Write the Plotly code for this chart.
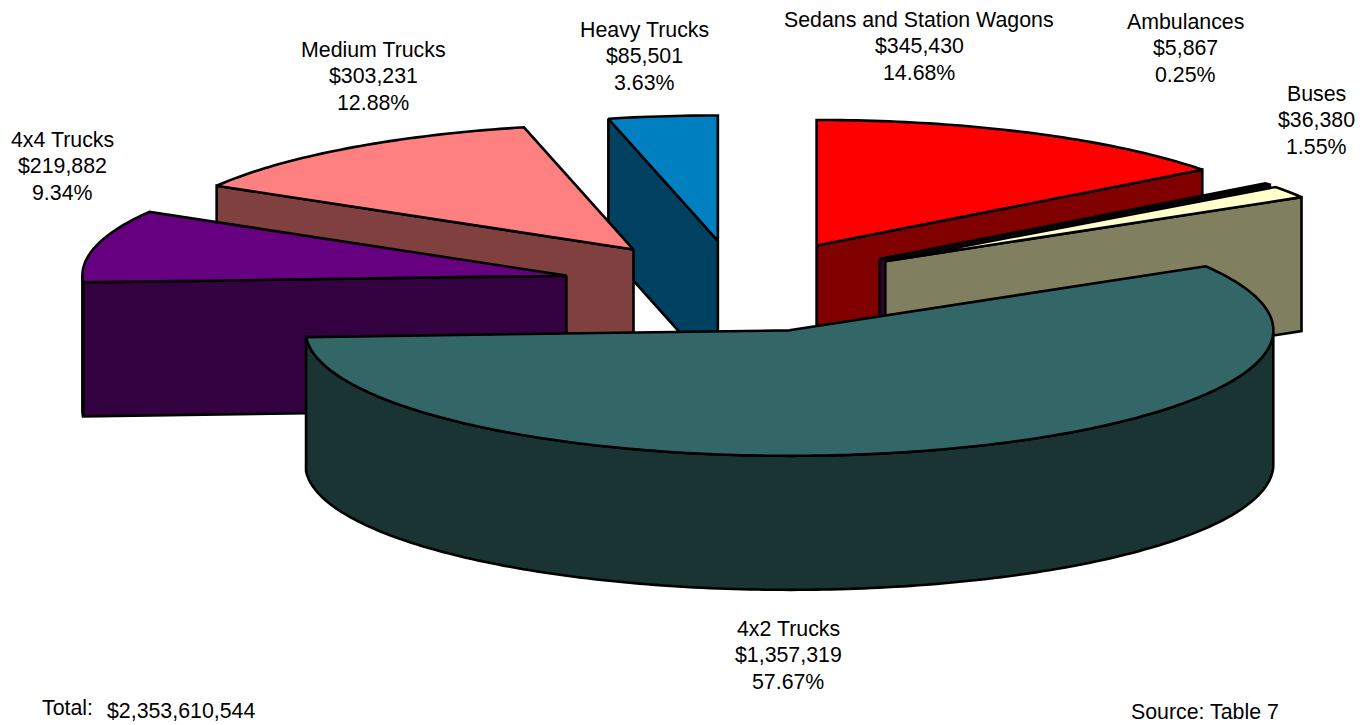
import math
import plotly.graph_objects as go

categories = ["Sedans and Station Wagons", "Ambulances", "Buses", "4x2 Trucks",
              "4x4 Trucks", "Medium Trucks", "Heavy Trucks"]
values = [345430, 5867, 36380, 1357319, 219882, 303231, 85501]
total_label = "$2,353,610,544"
source_label = "Source: Table 7"

top_colors = ["#FF0000", "#660066", "#FFFFCC", "#336666", "#660080", "#FF8080", "#0080C0"]
wall_colors = ["#800000", "#330033", "#808060", "#1A3333", "#330040", "#804040", "#004060"]
draw_order = [6, 5, 4, 0, 1, 2, 3]

CX, CY, RX, RY = 738.0, 286.5, 484.0, 125.5
DEPTH, EXPLODE = 134.0, 0.365
LINE = 2.6
LINE_PITCH = 26.5

label_pos = [(919, 46), (1185, 48), (1316, 120), (788, 655), (62, 166), (373, 76), (644, 56)]


def rim(t, ox, oy):
    return ox + RX * math.sin(t), oy - RY * math.cos(t)


fig = go.Figure()


def poly(pts, color):
    xs = [p[0] for p in pts] + [pts[0][0]]
    ys = [p[1] for p in pts] + [pts[0][1]]
    fig.add_trace(go.Scatter(x=xs, y=ys, mode="lines", fill="toself", fillcolor=color,
                             line=dict(color="black", width=LINE, simplify=False),
                             hoverinfo="skip", showlegend=False))


def extrude(pts):
    return pts + [(x, y + DEPTH) for x, y in reversed(pts)]


total = sum(values)
starts = []
acc = 0.0
for v in values:
    starts.append(acc)
    acc += v
TAU = 2 * math.pi

for i in draw_order:
    t1 = starts[i] / total * TAU
    t2 = (starts[i] + values[i]) / total * TAU
    mid = (t1 + t2) / 2
    ox = CX + EXPLODE * RX * math.sin(mid)
    oy = CY - EXPLODE * RY * math.cos(mid)
    n = max(3, int((t2 - t1) * 60))
    arc = [t1 + (t2 - t1) * k / n for k in range(n + 1)]
    apex = (ox, oy)
    if math.sin(t1) < -1e-6:
        poly(extrude([apex, rim(t1, ox, oy)]), wall_colors[i])
    if math.sin(t2) > 1e-6:
        poly(extrude([apex, rim(t2, ox, oy)]), wall_colors[i])
    front = [t for t in arc if math.cos(t) < 0]
    if len(front) > 1:
        poly(extrude([rim(t, ox, oy) for t in front]), wall_colors[i])
    poly([apex] + [rim(t, ox, oy) for t in arc], top_colors[i])

annotations = []


def note(x, y, text, anchor="center"):
    annotations.append(dict(x=x, y=y, text=text, showarrow=False, xanchor=anchor, yanchor="middle"))


for name, v, (x, y) in zip(categories, values, label_pos):
    note(x, y - LINE_PITCH, name)
    note(x, y, f"${v:,}")
    note(x, y + LINE_PITCH, f"{v / total * 100:.2f}%")
note(40, 708, "Total:", "left")
note(105, 711, total_label, "left")
note(1129, 712, source_label, "left")

fig.update_layout(
    width=1368, height=725, margin=dict(l=0, r=0, t=0, b=0),
    paper_bgcolor="white", plot_bgcolor="white",
    font=dict(family="Liberation Sans, Arial, sans-serif", size=21.33, color="black"),
    xaxis=dict(range=[0, 1368], visible=False, fixedrange=True),
    yaxis=dict(range=[725, 0], visible=False, fixedrange=True),
    annotations=annotations,
)
fig.write_html("out.html", config=dict(displayModeBar=False),
               post_script="document.body.style.margin='0';document.body.style.overflow='hidden';")
